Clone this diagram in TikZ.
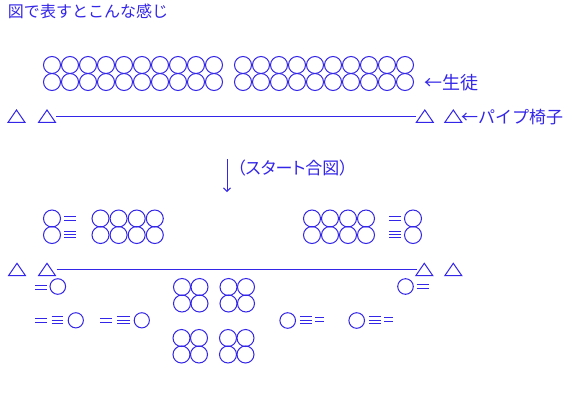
\documentclass[tikz,border=0pt]{standalone}
\usepackage{fontspec}
\usetikzlibrary{arrows.meta}
\newfontfamily\jp{Noto Sans CJK JP}
\newfontfamily\jpp[RawFeature=+palt]{Noto Sans CJK JP}
\definecolor{ink}{RGB}{52,38,232}
\newcommand\mytri[2]{\draw[shp,line join=miter] (#1-8.5,#2+6.2) -- (#1+8.5,#2+6.2) -- (#1,#2-6.2) -- cycle;}
\newcommand\myeq[3]{\draw[shp] (#1,#3-2) -- (#2,#3-2); \draw[shp] (#1,#3+2) -- (#2,#3+2);}
\newcommand\mytrip[3]{\draw[shp] (#1,#3-3.3) -- (#2,#3-3.3); \draw[shp] (#1,#3) -- (#2,#3); \draw[shp] (#1,#3+3.3) -- (#2,#3+3.3);}
\begin{document}
\begin{tikzpicture}[x=1pt,y=-1pt,
  every node/.style={inner sep=0pt,outer sep=0pt},
  shp/.style={draw=ink,line width=1pt},
  lbl/.style={anchor=base west,text=ink,font=\jp\fontsize{16}{16}\selectfont},
  lblp/.style={anchor=base west,text=ink,font=\jpp\fontsize{17}{17}\selectfont},
  stu/.style={shp}]
\useasboundingbox[fill=white] (0,0) rectangle (580,402);

% title
\node[lbl] (title) at (8,17.5) {図で表すとこんな感じ};

% students, top
\foreach \i in {0,...,9}{
  \foreach \j in {65,82}{
    \draw[stu] (52+18*\i,\j) circle[radius=8.5pt];
    \draw[stu] (243+18*\i,\j) circle[radius=8.5pt];
  }
}
\node[lbl,font=\jp\fontsize{18}{18}\selectfont] (stulbl) at (424,89.5) {←生徒};

% chairs, top
\mytri{16.5}{116.2}
\mytri{47}{116.2}
\mytri{424.8}{116.2}
\mytri{453.3}{116.2}
\coordinate (barAl) at (56,116);
\coordinate (barAr) at (415.5,116);
\draw[shp] (barAl) -- (barAr);
\node[lbl,font=\jp\fontsize{17}{17}\selectfont] (chairlbl) at (461,123.5) {←パイプ椅子};

% start signal
\coordinate (arrS) at (227,159);
\coordinate (arrE) at (227,192);
\draw[shp,-{Straight Barb[length=3.5pt,width=7pt]}] (arrS) -- (arrE);
\node[lblp] (startlbl) at (237,174.8) {（スタート合図）};

% students, middle
\foreach \j in {218.5,235}{
  \draw[stu] (52,\j) circle[radius=8.5pt];
  \draw[stu] (413,\j) circle[radius=8.5pt];
  \foreach \i in {0,...,3}{
    \draw[stu] (100.5+18.1*\i,\j) circle[radius=8.5pt];
    \draw[stu] (312+18*\i,\j) circle[radius=8.5pt];
  }
}
\myeq{64}{76}{218.7}
\mytrip{64}{76}{234.3}
\myeq{389.3}{400.7}{218.7}
\mytrip{389.3}{400.7}{234.3}

% chairs, bottom
\mytri{17}{269.5}
\mytri{47}{269.5}
\mytri{424.3}{269.5}
\mytri{453.3}{269.5}
\coordinate (barBl) at (56.5,269.3);
\coordinate (barBr) at (416.5,269.3);
\draw[shp] (barBl) -- (barBr);

% students running
\myeq{35}{46.7}{287}
\draw[stu] (57.8,286.5) circle[radius=7.8pt];
\draw[stu] (405.5,286.5) circle[radius=7.8pt];
\myeq{416.7}{429}{286.3}

\myeq{35}{46.7}{320.3}
\mytrip{51.7}{63.3}{320}
\draw[stu] (75.8,320.3) circle[radius=7.6pt];
\myeq{100}{111.7}{320.3}
\mytrip{117.3}{130}{320}
\draw[stu] (141.8,320.3) circle[radius=7.6pt];

\draw[stu] (287.7,320.5) circle[radius=7.8pt];
\mytrip{300}{311.7}{320}
\myeq{315}{324}{319.7}
\draw[stu] (356.7,320.5) circle[radius=7.8pt];
\mytrip{369}{380.7}{320}
\myeq{384}{393.3}{319.7}

% students in the middle, 2x2 groups
\foreach \x in {182,228.5}{
  \foreach \j in {287,303.5}{
    \draw[stu] (\x,\j) circle[radius=8.5pt];
    \draw[stu] (\x+17.5,\j) circle[radius=8.5pt];
  }
}
\foreach \x in {181.5,228}{
  \foreach \j in {338,354.5}{
    \draw[stu] (\x,\j) circle[radius=8.5pt];
    \draw[stu] (\x+17.5,\j) circle[radius=8.5pt];
  }
}
\end{tikzpicture}
\end{document}
